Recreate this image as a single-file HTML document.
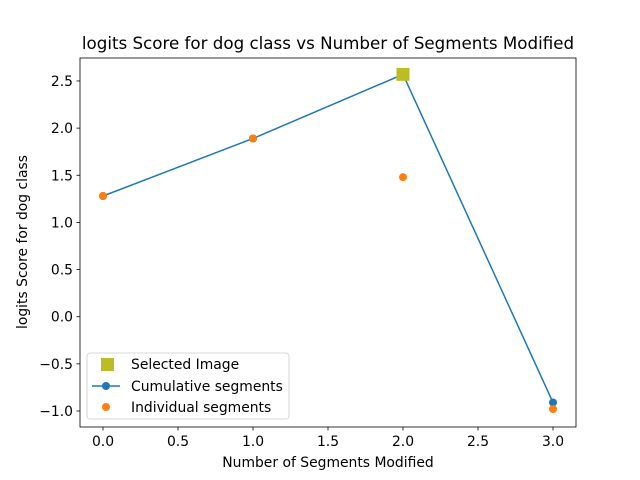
<!DOCTYPE html>
<html><head><meta charset="utf-8"><style>
body{margin:0;background:#fff;}
svg{display:block;font-family:"DejaVu Sans","Liberation Sans",sans-serif;}
</style></head><body>
<svg id="chart" width="640" height="480" xmlns="http://www.w3.org/2000/svg">
<rect width="640" height="480" fill="#fff"/>
<text x="328" y="49" text-anchor="middle" font-size="16.7">logits Score for dog class vs Number of Segments Modified</text>
<g id="axes"></g>
<g id="marks"></g>
<rect x="80" y="58" width="496" height="369" fill="none" stroke="#000" stroke-width="0.8"/>
<text x="328" y="467" text-anchor="middle" font-size="13.9">Number of Segments Modified</text>
<text transform="translate(27,242) rotate(-90)" text-anchor="middle" font-size="13.9">logits Score for dog class</text>
<g>
<rect x="87" y="353" width="202" height="66" rx="3" fill="#fff" fill-opacity="0.8" stroke="#ccc" stroke-width="0.8"/>
<rect x="101" y="358" width="13" height="13" fill="#bcbd22"/>
<text x="131" y="369" font-size="13.9">Selected Image</text>
<line x1="92" y1="386" x2="120" y2="386" stroke="#1f77b4" stroke-width="1.5"/>
<circle cx="106" cy="386" r="4" fill="#1f77b4"/>
<text x="131" y="391" font-size="13.9">Cumulative segments</text>
<circle cx="106" cy="407" r="4" fill="#ff7f0e"/>
<text x="131" y="412" font-size="13.9">Individual segments</text>
</g>
</svg>
<script>
const xCats = [0, 1, 2, 3];
const cumulative = [1.28, 1.89, 2.57, -0.91];
const individual = [1.28, 1.89, 1.48, -0.98];
const selectedX = [2];
const selectedY = [2.57];
const xTicks = [0, 0.5, 1, 1.5, 2, 2.5, 3];
const yTicks = [-1, -0.5, 0, 0.5, 1, 1.5, 2, 2.5];

const NS = "http://www.w3.org/2000/svg";
function sx(v){return 103 + v*150;}
function sy(v){return 316.7 - v*94.29;}
function mk(tag, attrs, parent){
  const e = document.createElementNS(NS, tag);
  for (const k in attrs) e.setAttribute(k, attrs[k]);
  parent.appendChild(e); return e;
}
const axes = document.getElementById('axes');
const marks = document.getElementById('marks');
xTicks.forEach(t=>{
  const l = mk('line',{x1:sx(t),x2:sx(t),y1:427,y2:430.5,stroke:'#000','stroke-width':0.8},axes);
  
  
  const tx = mk('text',{x:sx(t),y:446,'text-anchor':'middle','font-size':13.9},axes);
  tx.textContent = t.toFixed(1);
  
  
});
yTicks.forEach(t=>{
  const l = mk('line',{x1:76.5,x2:80,y1:sy(t),y2:sy(t),stroke:'#000','stroke-width':0.8},axes);
  
  
  const tx = mk('text',{x:73,y:sy(t)+5,'text-anchor':'end','font-size':13.9},axes);
  tx.textContent = (t<0?'\u2212':'') + Math.abs(t).toFixed(1);
  
  
});
const pts = xCats.map((x,i)=>sx(x)+','+sy(cumulative[i])).join(' ');
const pl = mk('polyline',{points:pts,fill:'none',stroke:'#1f77b4','stroke-width':1.5},marks);


xCats.forEach((x,i)=>{
  const c = mk('circle',{cx:sx(x),cy:sy(cumulative[i]),r:4,fill:'#1f77b4'},marks);
  
  
});
xCats.forEach((x,i)=>{
  const c = mk('circle',{cx:sx(x),cy:sy(individual[i]),r:4,fill:'#ff7f0e'},marks);
  
  
});
selectedX.forEach((x,i)=>{
  const r = mk('rect',{x:sx(x)-6.5,y:sy(selectedY[i])-6.5,width:13,height:13,fill:'#bcbd22'},marks);
  
  
});
</script>
</body></html>
